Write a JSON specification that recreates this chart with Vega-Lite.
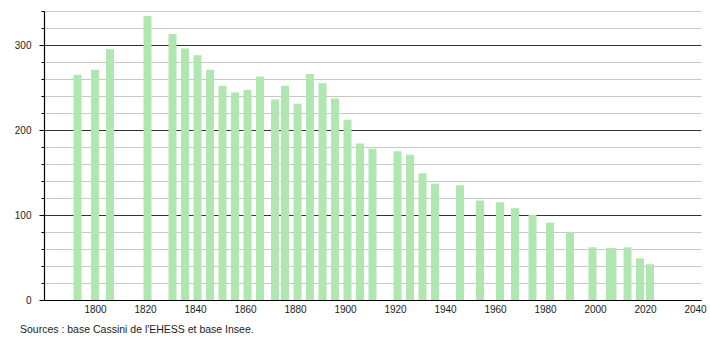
{
  "$schema": "https://vega.github.io/schema/vega-lite/v6.json",
  "autosize": "none",
  "width": 657,
  "height": 289,
  "padding": {"left": 44, "top": 11, "right": 9, "bottom": 40},
  "background": "white",
  "data": {"values": [
    {"year": 1793, "pop": 265},
    {"year": 1800, "pop": 271},
    {"year": 1806, "pop": 295},
    {"year": 1821, "pop": 334},
    {"year": 1831, "pop": 313},
    {"year": 1836, "pop": 296},
    {"year": 1841, "pop": 288},
    {"year": 1846, "pop": 271},
    {"year": 1851, "pop": 252},
    {"year": 1856, "pop": 244},
    {"year": 1861, "pop": 247},
    {"year": 1866, "pop": 263},
    {"year": 1872, "pop": 236},
    {"year": 1876, "pop": 252},
    {"year": 1881, "pop": 231},
    {"year": 1886, "pop": 266},
    {"year": 1891, "pop": 255},
    {"year": 1896, "pop": 237},
    {"year": 1901, "pop": 212},
    {"year": 1906, "pop": 184},
    {"year": 1911, "pop": 178},
    {"year": 1921, "pop": 175},
    {"year": 1926, "pop": 171},
    {"year": 1931, "pop": 149},
    {"year": 1936, "pop": 137},
    {"year": 1946, "pop": 135},
    {"year": 1954, "pop": 117},
    {"year": 1962, "pop": 115},
    {"year": 1968, "pop": 108},
    {"year": 1975, "pop": 100},
    {"year": 1982, "pop": 91},
    {"year": 1990, "pop": 80},
    {"year": 1999, "pop": 62},
    {"year": 2006, "pop": 61},
    {"year": 2007, "pop": 61},
    {"year": 2013, "pop": 62},
    {"year": 2018, "pop": 49},
    {"year": 2022, "pop": 42}
  ]},
  "title": {
    "text": "Sources : base Cassini de l'EHESS et base Insee.",
    "orient": "bottom",
    "anchor": "start",
    "frame": "group",
    "dx": -24,
    "offset": 11,
    "font": "Liberation Sans",
    "fontSize": 10.5,
    "fontWeight": "normal",
    "color": "#222"
  },
  "mark": {"type": "bar", "size": 8, "color": "#b0e6b0"},
  "encoding": {
    "x": {
      "field": "year",
      "type": "quantitative",
      "scale": {"domain": [1779.6, 2042.4], "nice": false, "zero": false, "padding": 0},
      "axis": {
        "title": null,
        "values": [1800, 1820, 1840, 1860, 1880, 1900, 1920, 1940, 1960, 1980, 2000, 2020, 2040],
        "format": "d",
        "grid": false,
        "ticks": false,
        "labelPadding": 4,
        "labelFont": "Liberation Sans",
        "labelFontSize": 10,
        "labelColor": "#222",
        "labelFlush": false,
        "labelOverlap": false,
        "domainColor": "#000",
        "domainWidth": 1.2
      }
    },
    "y": {
      "field": "pop",
      "type": "quantitative",
      "scale": {"domain": [0, 340], "nice": false, "padding": 0},
      "axis": {
        "title": null,
        "values": [0, 20, 40, 60, 80, 100, 120, 140, 160, 180, 200, 220, 240, 260, 280, 300, 320, 340],
        "labelExpr": "datum.value % 100 === 0 ? datum.label : ''",
        "grid": true,
        "gridColor": {"condition": {"test": "datum.value % 100 === 0", "value": "#333"}, "value": "#c8c8c8"},
        "gridWidth": 1,
        "tickColor": "#000",
        "tickSize": {"condition": {"test": "datum.value % 100 === 0", "value": 5}, "value": 3},
        "labelPadding": 8,
        "labelFont": "Liberation Sans",
        "labelFontSize": 10,
        "labelColor": "#222",
        "domainColor": "#000",
        "domainWidth": 1.2
      }
    }
  },
  "config": {"view": {"stroke": null}, "axis": {"zindex": 0}}
}
